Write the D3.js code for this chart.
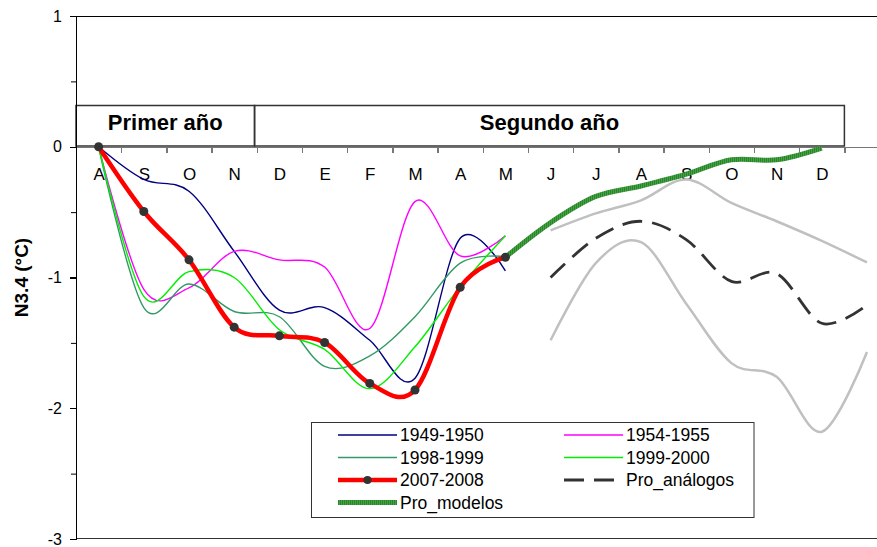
<!DOCTYPE html>
<meta charset="utf-8">
<style>
body { margin: 0; background: #fff; font-family: "Liberation Sans", Arial, sans-serif; }
text { fill: #000; }
.axis path, .axis line { shape-rendering: crispEdges; }
</style>
<body>
<svg id="chart" width="877" height="547"></svg>
<script src="https://cdn.jsdelivr.net/npm/d3@7/dist/d3.min.js"></script>
<script>

// month labels along the x axis (first year Aug..May, second year Jun..Dec)
var months = ["A","S","O","N","D","E","F","M","A","M","J","J","A","S","O","N","D"];

// historical years, starting at index 0 (August)
var y1949 = [0, -0.25, -0.34, -0.80, -1.25, -1.23, -1.48, -1.77, -0.70, -0.95];
var y1954 = [0, -1.09, -1.08, -0.80, -0.865, -0.92, -1.39, -0.42, -0.835, -0.68];
var y1998 = [0, -1.23, -1.05, -1.26, -1.30, -1.68, -1.60, -1.30, -0.89, -0.84];
var y1999 = [0, -1.145, -0.955, -1.00, -1.40, -1.55, -1.85, -1.53, -1.07, -0.68];
var y2007 = [0, -0.495, -0.865, -1.38, -1.446, -1.497, -1.81, -1.86, -1.075, -0.845];

// forecasts
var modelosStart = 9;
var proModelos = [-0.845, -0.58, -0.38, -0.30, -0.21, -0.10, -0.10, -0.01];
var analogosStart = 10;
var proAnalogos = [-1.00, -0.70, -0.57, -0.71, -1.03, -0.97, -1.35, -1.21];
var analogosHigh = [-0.64, -0.51, -0.41, -0.25, -0.43, -0.57, -0.72, -0.885];
var analogosLow  = [-1.48, -0.89, -0.73, -1.20, -1.655, -1.76, -2.18, -1.57];

var yTicks = [1, 0, -1, -2, -3];

var svg = d3.select("#chart"),
    width = +svg.attr("width"),
    plotLeft = 76, plotTop = 16, plotBottom = 539,
    step = 45.2;

var x = d3.scaleLinear().domain([-0.5, 17.5]).range([plotLeft, plotLeft + 18 * step]);
var y = d3.scaleLinear().domain([-3, 1]).range([plotBottom, plotTop]);

function pts(arr, start) {
  return arr.map(function(v, i) { return [i + start, v]; });
}

// Excel-style smoothed line
var line = d3.line()
    .x(function(d) { return x(d[0]); })
    .y(function(d) { return y(d[1]); })
    .curve(d3.curveCardinal.tension(0));

// hatched fill for the Pro_modelos line
var defs = svg.append("defs");
var pat = defs.append("pattern")
    .attr("id", "hatch")
    .attr("patternUnits", "userSpaceOnUse")
    .attr("width", 2).attr("height", 2);
pat.append("rect").attr("width", 2).attr("height", 2).attr("fill", "#44a244");
pat.append("rect").attr("width", 1).attr("height", 2).attr("fill", "#2a842a");

// plot frame (top and bottom edges)
svg.append("line").attr("x1", plotLeft).attr("x2", width).attr("y1", plotTop + 0.5).attr("y2", plotTop + 0.5)
    .attr("stroke", "#000").attr("stroke-width", 1.2);
svg.append("line").attr("x1", plotLeft).attr("x2", width).attr("y1", plotBottom - 0.5).attr("y2", plotBottom - 0.5)
    .attr("stroke", "#333").attr("stroke-width", 1.2);

// header boxes
var boxTop = 105.5, boxBot = 146;
var headers = [
  {label: "Primer año", from: -0.5, to: 3.45},
  {label: "Segundo año", from: 3.45, to: 16.5}
];
headers.forEach(function(h) {
  svg.append("rect")
    .attr("x", x(h.from)).attr("y", boxTop)
    .attr("width", x(h.to) - x(h.from)).attr("height", boxBot - boxTop)
    .attr("fill", "none").attr("stroke", "#333").attr("stroke-width", 1.5);
  svg.append("text")
    .attr("x", (x(h.from) + x(h.to)) / 2).attr("y", 130)
    .attr("text-anchor", "middle")
    .style("font-size", "22px").style("font-weight", "bold")
    .text(h.label);
});

// x axis: boundary ticks and month labels
var xTickAxis = svg.append("g")
    .attr("class", "axis")
    .attr("transform", "translate(0," + y(0) + ")")
    .call(d3.axisBottom(x).tickValues(d3.range(0.5, 17, 1)).tickSize(6).tickSizeOuter(0).tickFormat(""));
xTickAxis.selectAll("path, line").attr("stroke", "#777").attr("stroke-width", 1.3);

var xLabelAxis = svg.append("g")
    .attr("transform", "translate(0," + y(0) + ")")
    .call(d3.axisBottom(x).tickValues(d3.range(17)).tickSize(0).tickPadding(21)
      .tickFormat(function(i) { return months[i]; }));
xLabelAxis.select(".domain").remove();
xLabelAxis.selectAll("text").style("font-size", "17px").attr("fill", "#000")
    .style("font-family", "'Liberation Sans', Arial, sans-serif");

// y axis
var yAxis = svg.append("g")
    .attr("class", "axis")
    .attr("transform", "translate(" + plotLeft + ",0)")
    .call(d3.axisLeft(y).tickValues(yTicks).tickSize(6).tickSizeOuter(0).tickPadding(8)
      .tickFormat(function(d) { return String(d); }));
yAxis.selectAll("path, line").attr("stroke", "#000").attr("stroke-width", 1.2);
yAxis.selectAll("text").style("font-size", "16px").attr("fill", "#000")
    .style("font-family", "'Liberation Sans', Arial, sans-serif");

var yMinor = svg.append("g")
    .attr("transform", "translate(" + plotLeft + ",0)")
    .call(d3.axisLeft(y).tickValues([0.5, -0.5, -1.5, -2.5]).tickSize(5).tickFormat(""));
yMinor.select(".domain").remove();
yMinor.selectAll("line").attr("stroke", "#000");

svg.append("text")
    .attr("transform", "translate(28," + y(-1) + ") rotate(-90)")
    .attr("text-anchor", "middle")
    .style("font-size", "19px").style("font-weight", "bold")
    .text("N3.4 (°C)");

// analog range (grey) and analog mean (dashed)
[analogosHigh, analogosLow].forEach(function(s) {
  svg.append("path").datum(pts(s, analogosStart)).attr("d", line)
    .attr("fill", "none").attr("stroke", "#c0c0c0").attr("stroke-width", 2.5);
});
svg.append("path").datum(pts(proAnalogos, analogosStart)).attr("d", line)
  .attr("fill", "none").attr("stroke", "#333").attr("stroke-width", 2.8)
  .attr("stroke-dasharray", "20,10");

// historical years
var thin = [
  {data: y1949, color: "#000080"},
  {data: y1954, color: "#ff00ff"},
  {data: y1998, color: "#339966"},
  {data: y1999, color: "#00ee00"}
];
thin.forEach(function(s) {
  svg.append("path").datum(pts(s.data, 0)).attr("d", line)
    .attr("fill", "none").attr("stroke", s.color).attr("stroke-width", 1.4);
});

// models forecast
svg.append("path").datum(pts(proModelos, modelosStart)).attr("d", line)
  .attr("fill", "none").attr("stroke", "url(#hatch)").attr("stroke-width", 5);

// 2007-2008
svg.append("path").datum(pts(y2007, 0)).attr("d", line)
  .attr("fill", "none").attr("stroke", "#ff0000").attr("stroke-width", 4.5);
svg.selectAll(".dot").data(pts(y2007, 0)).enter().append("circle")
  .attr("class", "dot")
  .attr("cx", function(d) { return x(d[0]); })
  .attr("cy", function(d) { return y(d[1]); })
  .attr("r", 4.5).attr("fill", "#333");

// legend
var legend = svg.append("g");
legend.append("rect").attr("x", 311.5).attr("y", 422.5).attr("width", 442.5).attr("height", 95)
  .attr("fill", "#fff").attr("stroke", "#333").attr("stroke-width", 1);

var items = [
  {label: "1949-1950", col: 0, row: 0, color: "#000080", w: 1.4},
  {label: "1954-1955", col: 1, row: 0, color: "#ff00ff", w: 1.4},
  {label: "1998-1999", col: 0, row: 1, color: "#339966", w: 1.4},
  {label: "1999-2000", col: 1, row: 1, color: "#00ee00", w: 1.4},
  {label: "2007-2008", col: 0, row: 2, color: "#ff0000", w: 4.5, dot: true},
  {label: "Pro_análogos", col: 1, row: 2, color: "#333", w: 2.8, dash: "20,10"},
  {label: "Pro_modelos", col: 0, row: 3, color: "url(#hatch)", w: 5}
];
var colX = [338, 564];
items.forEach(function(it) {
  var x0 = colX[it.col], yy = 435 + it.row * 22.5;
  var l = legend.append("line").attr("x1", x0).attr("x2", x0 + 59).attr("y1", yy).attr("y2", yy)
    .attr("stroke", it.color).attr("stroke-width", it.w);
  if (it.dash) l.attr("stroke-dasharray", it.dash);
  if (it.dot) legend.append("circle").attr("cx", x0 + 29.5).attr("cy", yy).attr("r", 4).attr("fill", "#333");
  legend.append("text").attr("x", x0 + 62).attr("y", yy + 6)
    .style("font-size", "17.5px").text(it.label);
});

</script>
</body>
